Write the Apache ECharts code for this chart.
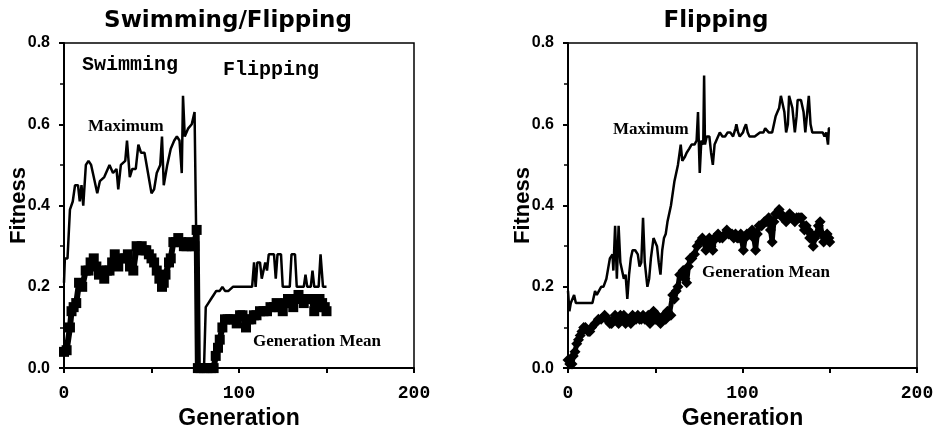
<!DOCTYPE html>
<html>
<head>
<meta charset="utf-8">
<script src="https://cdn.jsdelivr.net/npm/echarts@6/dist/echarts.min.js"></script>
<style>
	html, body { margin: 0; padding: 0; background: #fff; }
	#chart { width: 943px; height: 435px; }
</style>
</head>
<body>
<div id="chart"></div>
<script>
// [generation, fitness]
const swimFlipMax = [
	[0,0.21],[0.5,0.27],[2,0.27],[3.4,0.39],[5,0.41],[6.3,0.45],[8,0.45],[9,0.41],[10,0.45],[11,0.40],
	[12.5,0.50],[14,0.51],[15.5,0.50],[17,0.47],[19,0.43],[20.5,0.46],[23,0.47],[25,0.49],[26,0.50],[28,0.48],
	[30,0.49],[31,0.44],[32.5,0.50],[35,0.51],[36,0.56],[37.6,0.47],[39,0.49],[41,0.49],[42.5,0.55],[44,0.53],
	[46,0.53],[48,0.48],[50,0.43],[51.5,0.44],[53,0.48],[55,0.50],[56,0.57],[57,0.45],[59,0.50],[61,0.54],
	[63,0.56],[64.5,0.57],[66,0.56],[67.3,0.48],[68,0.67],[69,0.57],[71,0.59],[73,0.60],[74,0.60],[74.6,0.63],
	[75.5,0.34],[76.3,0],[80,0],[81,0.15],[82.5,0.16],[84,0.17],[85.5,0.18],[87,0.19],[89,0.19],[90.5,0.20],
	[92,0.19],[94,0.19],[96.5,0.20],[100,0.20],[104,0.20],[107.5,0.20],[108.6,0.26],[109.5,0.20],[110.5,0.26],[112,0.26],
	[113,0.22],[115,0.26],[116,0.24],[117,0.28],[120,0.28],[121,0.22],[122,0.28],[124,0.28],[125,0.20],[129,0.20],
	[130,0.28],[132,0.28],[133,0.20],[137,0.20],[138,0.23],[139,0.20],[141,0.20],[142,0.24],[143,0.20],[145.5,0.20],
	[146.6,0.28],[148,0.20],[150,0.20]
];
const swimFlipMean = [
	[0,0.04],[1.5,0.044],[3.4,0.10],[4.3,0.14],[5.5,0.15],[7,0.16],[8.6,0.21],[10.4,0.20],[12.4,0.24],[14,0.24],
	[15.2,0.26],[17,0.27],[18.5,0.25],[20,0.23],[21.5,0.24],[23,0.22],[24.5,0.24],[26,0.24],[27.5,0.26],[29,0.28],
	[31,0.25],[33,0.27],[35,0.27],[36.5,0.28],[37.7,0.25],[39.6,0.24],[41.5,0.30],[43,0.29],[44.4,0.30],[46,0.29],
	[47,0.29],[48.5,0.28],[50,0.27],[51.5,0.26],[53,0.24],[54.5,0.22],[56,0.20],[57,0.21],[58,0.23],[60,0.26],
	[61,0.27],[62.5,0.31],[64,0.31],[65.3,0.32],[67,0.31],[68.5,0.30],[70,0.30],[71.5,0.31],[73,0.30],[74.5,0.30],
	[75.8,0.34],[76.5,0],[78,0],[80,0],[82,0],[84,0],[85.5,0],[86.7,0.03],[88,0.05],[89,0.07],
	[90.5,0.10],[92,0.12],[93.5,0.12],[95,0.12],[97,0.12],[98.7,0.11],[100.6,0.13],[102,0.13],[104,0.10],[105.5,0.12],
	[107,0.12],[108.5,0.13],[110,0.13],[112,0.14],[114,0.14],[116,0.14],[118,0.15],[120,0.15],[121.5,0.16],[123,0.15],
	[125,0.14],[126.5,0.16],[128,0.17],[129.5,0.16],[131,0.15],[132.5,0.17],[134,0.18],[135.5,0.17],[137,0.16],[138.5,0.17],
	[140,0.17],[141.5,0.17],[143,0.14],[144.5,0.15],[146,0.17],[147.5,0.16],[149,0.15],[150,0.14]
];
const flipMax = [
	[0,0.19],[0.8,0.14],[1.6,0.16],[2.5,0.16],[3.5,0.18],[4.5,0.16],[6,0.16],[10,0.16],[14,0.16],[15.5,0.19],
	[16.5,0.18],[17.5,0.18],[19,0.20],[20.3,0.20],[22,0.22],[24,0.27],[25.5,0.28],[26,0.24],[27,0.35],[28,0.22],
	[29,0.35],[30,0.26],[31,0.26],[32,0.22],[33,0.23],[34,0.17],[35,0.23],[36,0.27],[37,0.29],[38.5,0.29],
	[40,0.28],[41,0.25],[42,0.26],[43,0.37],[44,0.26],[45.5,0.20],[46.5,0.22],[47.5,0.27],[49,0.32],[50,0.32],
	[51,0.30],[52,0.26],[53,0.23],[54,0.29],[55,0.32],[56,0.33],[57,0.36],[59,0.40],[61,0.46],[63,0.50],
	[64.6,0.55],[65.5,0.51],[67,0.52],[68,0.53],[69.5,0.54],[70.8,0.55],[72.5,0.55],[73.7,0.56],[74.5,0.63],[75,0.55],
	[75.5,0.48],[76.4,0.56],[77.5,0.55],[78,0.72],[78.5,0.55],[79.5,0.57],[81,0.57],[82,0.53],[83,0.50],[84,0.55],
	[85,0.56],[87,0.58],[88.5,0.57],[90,0.57],[91.5,0.58],[93,0.58],[94.6,0.57],[96,0.59],[96.5,0.60],[97.5,0.58],
	[98.4,0.57],[100.3,0.58],[101,0.59],[102,0.60],[103,0.58],[104,0.57],[107,0.57],[110,0.58],[112,0.58],[113,0.59],
	[115,0.58],[117,0.58],[119,0.62],[120,0.63],[121,0.64],[122,0.67],[123,0.67],[124,0.63],[125,0.58],[126,0.60],
	[126.7,0.67],[127.5,0.67],[128.6,0.64],[130,0.58],[131,0.62],[131.6,0.66],[133.5,0.66],[134.5,0.66],[135,0.63],[136,0.58],
	[137,0.58],[138,0.67],[139,0.60],[140,0.58],[141,0.58],[144,0.58],[146,0.58],[147,0.57],[148,0.58],[149,0.55],
	[149.5,0.59],[150,0.59]
];
const flipMean = [
	[0,0.02],[1,0.01],[2.3,0.01],[3,0.03],[4,0.04],[5,0.06],[6,0.07],[7,0.08],[8,0.09],[9,0.10],
	[10,0.10],[11.5,0.09],[12.5,0.09],[13.5,0.10],[15.5,0.11],[17.4,0.12],[19,0.12],[21,0.13],[22,0.12],[23,0.12],
	[24,0.11],[25,0.11],[27,0.13],[28,0.12],[29,0.11],[30,0.13],[31,0.12],[32,0.13],[33,0.11],[34,0.12],
	[35,0.12],[36,0.11],[37,0.13],[38,0.12],[39,0.12],[40,0.13],[41,0.12],[42,0.12],[43,0.13],[44,0.12],
	[45,0.12],[46,0.13],[47,0.11],[48,0.13],[49,0.14],[50,0.12],[51,0.13],[52,0.12],[53,0.11],[54,0.12],
	[55,0.13],[56,0.12],[57,0.14],[58,0.13],[59,0.13],[60,0.18],[61,0.17],[62,0.19],[63,0.20],[64,0.23],
	[65,0.23],[66,0.24],[67,0.22],[68,0.21],[69,0.25],[70,0.27],[71,0.27],[72.5,0.28],[74,0.30],[75.5,0.31],
	[77,0.32],[78,0.31],[79,0.29],[80,0.31],[81,0.32],[82,0.30],[83,0.29],[84,0.32],[85,0.32],[86,0.33],
	[87,0.32],[88.5,0.32],[90,0.33],[91,0.34],[92,0.33],[93,0.33],[94,0.33],[95,0.32],[96,0.33],[97,0.32],
	[98,0.32],[99,0.33],[100.5,0.29],[101.5,0.32],[102.5,0.33],[104,0.33],[105.5,0.34],[106.5,0.32],[107.5,0.29],[108.5,0.33],
	[109.5,0.35],[111,0.35],[112.5,0.36],[114,0.36],[115,0.37],[116,0.34],[117,0.31],[118,0.36],[119,0.38],[120,0.38],
	[121,0.39],[122,0.38],[123,0.37],[124,0.37],[125,0.36],[126,0.37],[127,0.38],[128,0.37],[129,0.37],[130,0.36],
	[131,0.37],[132,0.37],[133,0.37],[134,0.37],[135,0.35],[135.5,0.34],[136.5,0.35],[137.5,0.34],[138.5,0.32],[139.5,0.33],
	[140.5,0.30],[141.5,0.32],[142.5,0.33],[143.5,0.35],[144.5,0.36],[145.5,0.33],[146.5,0.31],[147.5,0.32],[148.5,0.33],[149.5,0.32],
	[150,0.31]
];

const chart = echarts.init( document.getElementById( "chart" ) );

function xAxisOf( gridIndex ) {
	return {
		gridIndex,
		type: "value",
		min: 0,
		max: 200,
		interval: 50,
		name: "Generation",
		nameLocation: "middle",
		nameGap: 30,
		nameTextStyle: { fontFamily: "Liberation Sans", fontWeight: "bold", fontSize: 23, color: "#000" },
		axisLine: { lineStyle: { color: "#000", width: 2 } },
		axisTick: { length: 5, lineStyle: { color: "#000", width: 2 } },
		axisLabel: {
			formatter: v => v % 100 === 0 ? String( v ) : "",
			fontFamily: "Liberation Mono", fontWeight: "bold", fontSize: 18, color: "#000", margin: 16
		},
		splitLine: { show: false }
	};
}

function yAxisOf( gridIndex ) {
	return {
		gridIndex,
		type: "value",
		min: 0,
		max: 0.8,
		interval: 0.2,
		name: "Fitness",
		nameLocation: "middle",
		nameRotate: 90,
		nameGap: 34,
		nameMoveOverlap: false,
		nameTextStyle: { fontFamily: "Liberation Sans", fontWeight: "bold", fontSize: 22, color: "#000" },
		axisLine: { show: true, lineStyle: { color: "#000", width: 2 } },
		axisTick: { length: 5, lineStyle: { color: "#000", width: 2 } },
		minorTick: { show: true, splitNumber: 2, length: 4, lineStyle: { color: "#000", width: 1.5 } },
		axisLabel: {
			formatter: v => v.toFixed( 1 ),
			fontFamily: "Liberation Sans", fontWeight: "bold", fontSize: 16, color: "#000", margin: 14
		},
		splitLine: { show: false }
	};
}

function txt( x, y, text, font, align ) {
	return {
		type: "text", x, y,
		style: { text, font, fill: "#000", align: align || "left", verticalAlign: "middle" }
	};
}

const serifFont = "bold 17px 'Liberation Serif'";
const monoFont = "bold 20px 'Liberation Mono'";
const headFont = "bold 23px 'DejaVu Sans'";

chart.setOption( {
	animation: false,
	backgroundColor: "#fff",
	grid: [
		{ left: 64, top: 43, width: 350, height: 330, show: true, borderColor: "#000", borderWidth: 1.5 },
		{ left: 568, top: 43, width: 349, height: 332, show: true, borderColor: "#000", borderWidth: 1.5 }
	],
	xAxis: [ xAxisOf( 0 ), xAxisOf( 1 ) ],
	yAxis: [ yAxisOf( 0 ), yAxisOf( 1 ) ],
	series: [
		{
			type: "line", xAxisIndex: 0, yAxisIndex: 0, data: swimFlipMax,
			showSymbol: false, lineStyle: { color: "#000", width: 2.5 }
		},
		{
			type: "line", xAxisIndex: 0, yAxisIndex: 0, data: swimFlipMean,
			symbol: "rect", symbolSize: 10, itemStyle: { color: "#000" },
			lineStyle: { color: "#000", width: 6 }
		},
		{
			type: "line", xAxisIndex: 1, yAxisIndex: 1, data: flipMax,
			showSymbol: false, lineStyle: { color: "#000", width: 2.5 }
		},
		{
			type: "line", xAxisIndex: 1, yAxisIndex: 1, data: flipMean,
			symbol: "diamond", symbolSize: 11, itemStyle: { color: "#000" },
			lineStyle: { color: "#000", width: 5 }
		}
	],
	graphic: [
		txt( 228, 21, "Swimming/Flipping", headFont, "center" ),
		txt( 716, 21, "Flipping", headFont, "center" ),
		txt( 82, 65, "Swimming", monoFont ),
		txt( 223, 70, "Flipping", monoFont ),
		txt( 88, 127, "Maximum", serifFont ),
		txt( 253, 342, "Generation Mean", serifFont ),
		txt( 613, 130, "Maximum", serifFont ),
		txt( 702, 273, "Generation Mean", serifFont )
	]
} );
</script>
</body>
</html>
